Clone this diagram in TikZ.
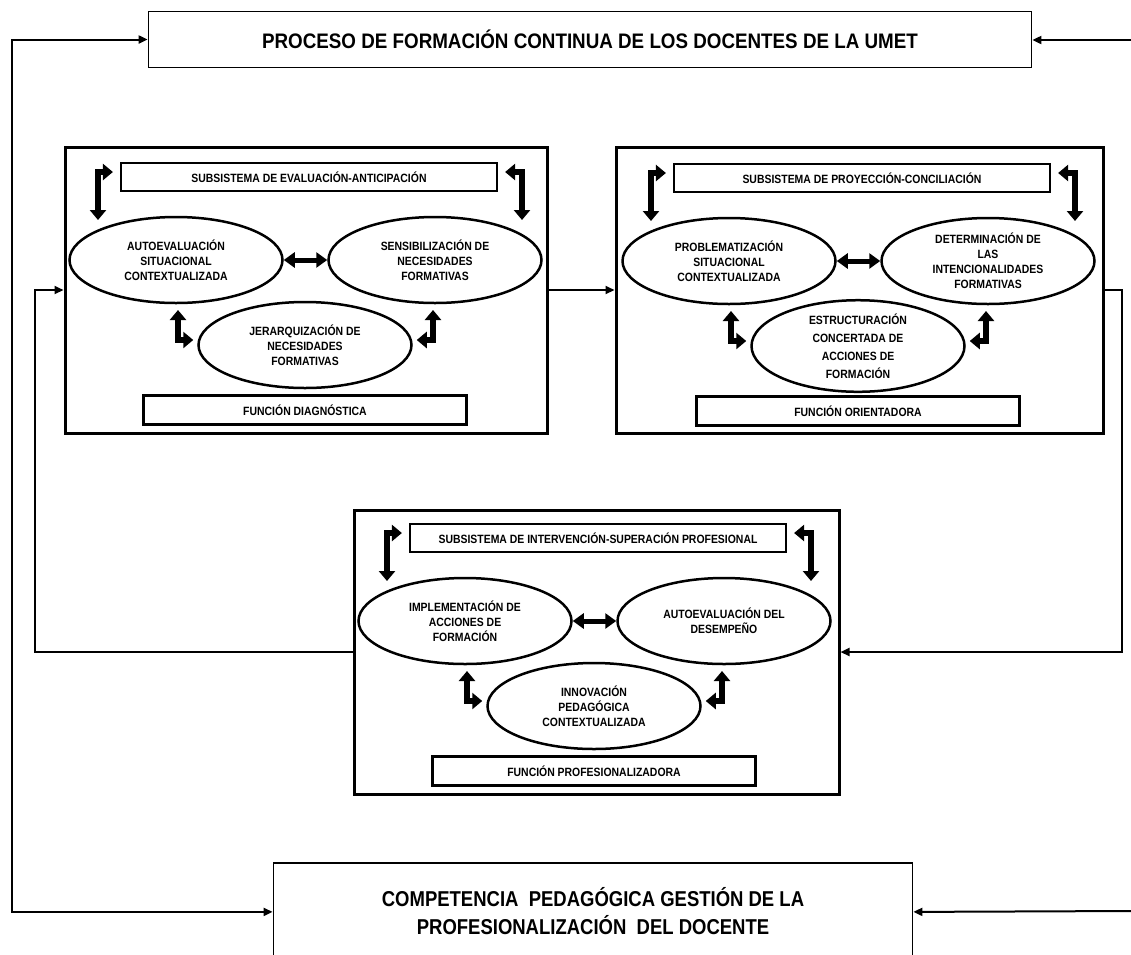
\documentclass[tikz,border=0pt]{standalone}
\usepackage{fontspec}
\usetikzlibrary{arrows.meta,shapes.geometric,calc}
\newfontfamily\innerfont[FakeStretch=0.87]{Liberation Sans}
\newfontfamily\headfont[FakeStretch=0.895]{Liberation Sans}
\newfontfamily\goalfont[FakeStretch=0.86]{Liberation Sans}

\tikzset{
  frame/.style={draw, line width=3pt, anchor=north west, inner sep=0pt},
  subtitle/.style={draw, line width=2.2pt, minimum width=376pt, minimum height=28pt,
    inner sep=0pt, font=\innerfont\bfseries\fontsize{12}{15}\selectfont},
  funcbox/.style={draw, line width=2.2pt, minimum width=323pt, minimum height=29pt,
    inner sep=0pt, font=\innerfont\bfseries\fontsize{12}{15}\selectfont},
  stage/.style={ellipse, draw, line width=2.5pt, minimum width=213pt, minimum height=86pt,
    inner sep=0pt, align=center, font=\innerfont\bfseries\fontsize{12}{15}\selectfont},
  bent/.style={line width=5.5pt,
    {Triangle[width=16pt,length=10pt]}-{Triangle[width=16pt,length=10pt]}},
  twoway/.style={line width=5pt,
    {Triangle[width=15pt,length=11pt]}-{Triangle[width=15pt,length=11pt]}},
  link/.style={line width=2pt, -{Triangle[width=8pt,length=9pt]}},
  bilink/.style={line width=2pt, {Triangle[width=8pt,length=9pt]}-{Triangle[width=8pt,length=9pt]}},
}

% #1 name prefix, #2/#3 origin, #4 subsystem, #5-#7 stages, #8 function
\newcommand\subsys[8]{%
  \begin{scope}[shift={(#2,#3)}]
    \node[subtitle] (#1T) at (246,32) {#4};
    \node[stage] (#1L) at (113,115) {#5};
    \node[stage] (#1R) at (372,115) {#6};
    \node[stage] (#1B) at (242,200) {#7};
    \node[funcbox] (#1F) at (242,265) {#8};
    \coordinate (#1tl) at (35,75);
    \coordinate (#1tr) at (459,75);
    \coordinate (#1bl) at (115,165);
    \coordinate (#1br) at (370,165);
    \draw[bent] (#1tl) |- ([xshift=-7pt,yshift=5pt]#1T.west);
    \draw[bent] ([xshift=7pt,yshift=5pt]#1T.east) -| (#1tr);
    \draw[bent] (#1bl) |- ([xshift=-4pt,yshift=5pt]#1B.west);
    \draw[bent] (#1br) |- ([xshift=4pt,yshift=5pt]#1B.east);
    \draw[twoway] (#1L.east) -- (#1R.west);
  \end{scope}}

\begin{document}
\begin{tikzpicture}[x=1pt, y=-1pt]
  \useasboundingbox (0,0) rectangle (1131,954);
  \fill[white] (0,0) rectangle (1131,954);

  % overall process and goal
  \node[draw, line width=1.8pt, minimum width=883pt, minimum height=56pt, inner sep=0pt,
        font=\headfont\bfseries\fontsize{21}{24}\selectfont]
        (top) at (590,39.5) {PROCESO DE FORMACIÓN CONTINUA DE LOS DOCENTES DE LA UMET};
  \node[draw, line width=1.8pt, minimum width=639pt, minimum height=98pt, inner sep=0pt,
        anchor=north] (bot) at (593,862) {};
  \node[align=center, font=\goalfont\bfseries\fontsize{21.5}{28}\selectfont]
        (goal) at (593,911) {COMPETENCIA\ \ PEDAGÓGICA GESTIÓN DE LA\\PROFESIONALIZACIÓN\ \ DEL DOCENTE};

  % the three subsystems
  \node[frame, minimum width=482pt, minimum height=286pt] (Lf) at (63.5,145.5) {};
  \node[frame, minimum width=487pt, minimum height=286pt] (Rf) at (614.5,145.5) {};
  \node[frame, minimum width=485pt, minimum height=284pt] (Bf) at (352.5,508.5) {};

  \subsys{a}{63}{145}{SUBSISTEMA DE EVALUACIÓN-ANTICIPACIÓN}
    {AUTOEVALUACIÓN\\SITUACIONAL\\CONTEXTUALIZADA}
    {SENSIBILIZACIÓN DE\\NECESIDADES\\FORMATIVAS}
    {JERARQUIZACIÓN DE\\NECESIDADES\\FORMATIVAS}
    {FUNCIÓN DIAGNÓSTICA}
  \subsys{b}{616}{146}{SUBSISTEMA DE PROYECCIÓN-CONCILIACIÓN}
    {PROBLEMATIZACIÓN\\SITUACIONAL\\CONTEXTUALIZADA}
    {DETERMINACIÓN DE\\LAS\\INTENCIONALIDADES\\FORMATIVAS}
    {ESTRUCTURACIÓN\\[3pt]CONCERTADA DE\\[3pt]ACCIONES DE\\[3pt]FORMACIÓN}
    {FUNCIÓN ORIENTADORA}
  \subsys{c}{352}{506}{SUBSISTEMA DE INTERVENCIÓN-SUPERACIÓN PROFESIONAL}
    {IMPLEMENTACIÓN DE\\ACCIONES DE\\FORMACIÓN}
    {AUTOEVALUACIÓN DEL\\DESEMPEÑO}
    {INNOVACIÓN\\PEDAGÓGICA\\CONTEXTUALIZADA}
    {FUNCIÓN PROFESIONALIZADORA}

  % rails of the feedback loops
  \coordinate (outerrail) at (12,0);
  \coordinate (leftrail) at (35,0);
  \coordinate (rightrail) at (1122,0);
  \coordinate (edgetop) at (1131,40);
  \coordinate (edgebot) at (1131,911);

  \draw[bilink] (top.west) -- (top.west -| outerrail)
     -- (bot.west -| outerrail) -- (bot.west);
  \draw[link] (edgetop) -- (edgetop -| top.east);
  \draw[link] (edgebot) -- (bot.east);

  \draw[link] (Bf.west) -- (Bf.west -| leftrail) -- (Lf.west -| leftrail) -- (Lf.west);
  \draw[link] (Lf.east) -- (Rf.west);
  \draw[link] (Rf.east) -- (Rf.east -| rightrail) -- (Bf.east -| rightrail) -- (Bf.east);
\end{tikzpicture}
\end{document}
